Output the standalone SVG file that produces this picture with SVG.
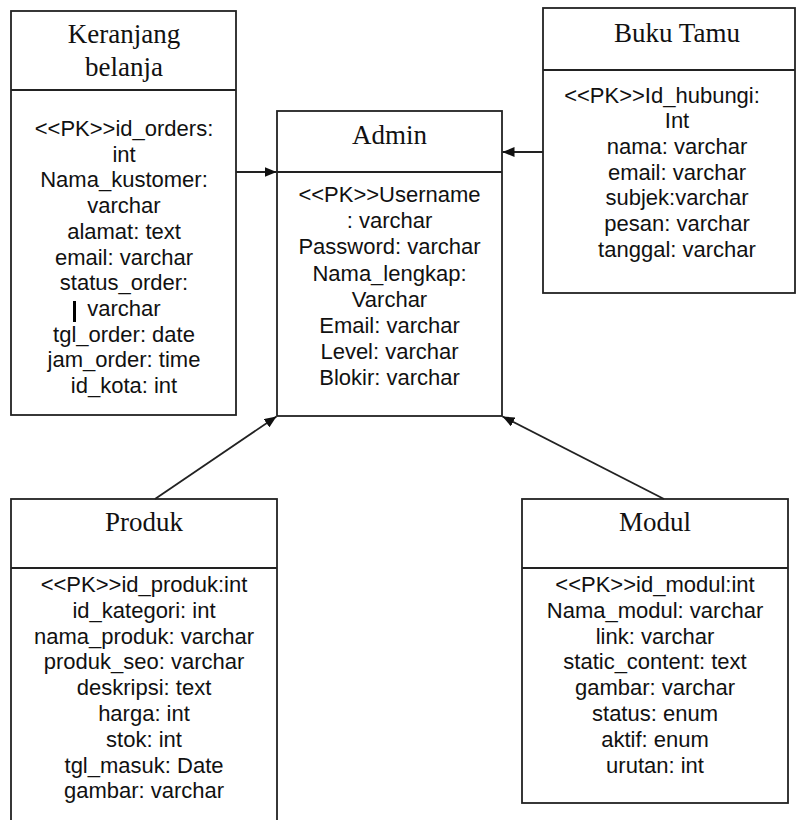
<svg xmlns="http://www.w3.org/2000/svg" width="796" height="820" viewBox="0 0 796 820">
<style>
.box{fill:#fff;stroke:#222;stroke-width:1.8}
.div{stroke:#222;stroke-width:1.8}
.t{font-family:"Liberation Serif","Times New Roman",serif;font-size:27px;fill:#111;text-anchor:middle}
.b{font-family:"Liberation Sans",Arial,sans-serif;font-size:22px;fill:#111;text-anchor:middle}
.c{stroke:#222;stroke-width:1.8;fill:none;marker-end:url(#ah)}
</style>
<defs>
<marker id="ah" viewBox="0 0 12 10" refX="12" refY="5" markerWidth="12" markerHeight="10" markerUnits="userSpaceOnUse" orient="auto">
<path d="M0,0 L12,5 L0,10 z" fill="#111"/>
</marker>
</defs>
<rect width="796" height="820" fill="#fff"/>
<g id="keranjang">
<rect class="box" x="11" y="11" width="225" height="404"/>
<line class="div" x1="11" y1="90" x2="236" y2="90"/>
<text class="t" x="124" y="43">Keranjang</text>
<text class="t" x="124" y="76">belanja</text>
<text class="b" x="124" y="136">&lt;&lt;PK&gt;&gt;id_orders:</text>
<text class="b" x="124" y="161.7">int</text>
<text class="b" x="124" y="187.4">Nama_kustomer:</text>
<text class="b" x="124" y="213.1">varchar</text>
<text class="b" x="124" y="238.8">alamat: text</text>
<text class="b" x="124" y="264.5">email: varchar</text>
<text class="b" x="124" y="290.2">status_order:</text>
<rect x="73" y="301" width="3" height="21" fill="#000"/>
<text class="b" x="124" y="315.9">varchar</text>
<text class="b" x="124" y="341.6">tgl_order: date</text>
<text class="b" x="124" y="367.3">jam_order: time</text>
<text class="b" x="124" y="393">id_kota: int</text>
</g>
<g id="admin">
<rect class="box" x="277" y="111" width="225" height="305"/>
<line class="div" x1="277" y1="172" x2="502" y2="172"/>
<text class="t" x="389.5" y="144">Admin</text>
<text class="b" x="389.5" y="202">&lt;&lt;PK&gt;&gt;Username</text>
<text class="b" x="389.5" y="228">: varchar</text>
<text class="b" x="389.5" y="254">Password: varchar</text>
<text class="b" x="389.5" y="280.5">Nama_lengkap:</text>
<text class="b" x="389.5" y="306.5">Varchar</text>
<text class="b" x="389.5" y="332.5">Email: varchar</text>
<text class="b" x="389.5" y="359">Level: varchar</text>
<text class="b" x="389.5" y="385">Blokir: varchar</text>
</g>
<g id="bukutamu">
<rect class="box" x="543" y="8" width="252" height="285"/>
<line class="div" x1="543" y1="70" x2="795" y2="70"/>
<text class="t" x="677" y="42">Buku Tamu</text>
<text class="b" x="662" y="103">&lt;&lt;PK&gt;&gt;Id_hubungi:</text>
<text class="b" x="677" y="128">Int</text>
<text class="b" x="677" y="154">nama: varchar</text>
<text class="b" x="677" y="180">email: varchar</text>
<text class="b" x="677" y="205">subjek:varchar</text>
<text class="b" x="677" y="231">pesan: varchar</text>
<text class="b" x="677" y="257">tanggal: varchar</text>
</g>
<g id="produk">
<rect class="box" x="11" y="499" width="266" height="340"/>
<line class="div" x1="11" y1="568" x2="277" y2="568"/>
<text class="t" x="144" y="531">Produk</text>
<text class="b" x="144" y="592">&lt;&lt;PK&gt;&gt;id_produk:int</text>
<text class="b" x="144" y="617.8">id_kategori: int</text>
<text class="b" x="144" y="643.6">nama_produk: varchar</text>
<text class="b" x="144" y="669.4">produk_seo: varchar</text>
<text class="b" x="144" y="695.2">deskripsi: text</text>
<text class="b" x="144" y="721">harga: int</text>
<text class="b" x="144" y="746.8">stok: int</text>
<text class="b" x="144" y="772.6">tgl_masuk: Date</text>
<text class="b" x="144" y="798.4">gambar: varchar</text>
</g>
<g id="modul">
<rect class="box" x="522" y="499" width="266" height="304"/>
<line class="div" x1="522" y1="568" x2="788" y2="568"/>
<text class="t" x="655" y="531">Modul</text>
<text class="b" x="655" y="592">&lt;&lt;PK&gt;&gt;id_modul:int</text>
<text class="b" x="655" y="617.8">Nama_modul: varchar</text>
<text class="b" x="655" y="643.6">link: varchar</text>
<text class="b" x="655" y="669.4">static_content: text</text>
<text class="b" x="655" y="695.2">gambar: varchar</text>
<text class="b" x="655" y="721">status: enum</text>
<text class="b" x="655" y="746.8">aktif: enum</text>
<text class="b" x="655" y="772.6">urutan: int</text>
</g>
<g id="connectors">
<line class="c" x1="236" y1="172" x2="276.5" y2="172"/>
<line class="c" x1="543" y1="152" x2="502.5" y2="152"/>
<line class="c" x1="155" y1="499" x2="276.5" y2="416.5"/>
<line class="c" x1="664" y1="499" x2="502.5" y2="416.5"/>
</g>
</svg>
